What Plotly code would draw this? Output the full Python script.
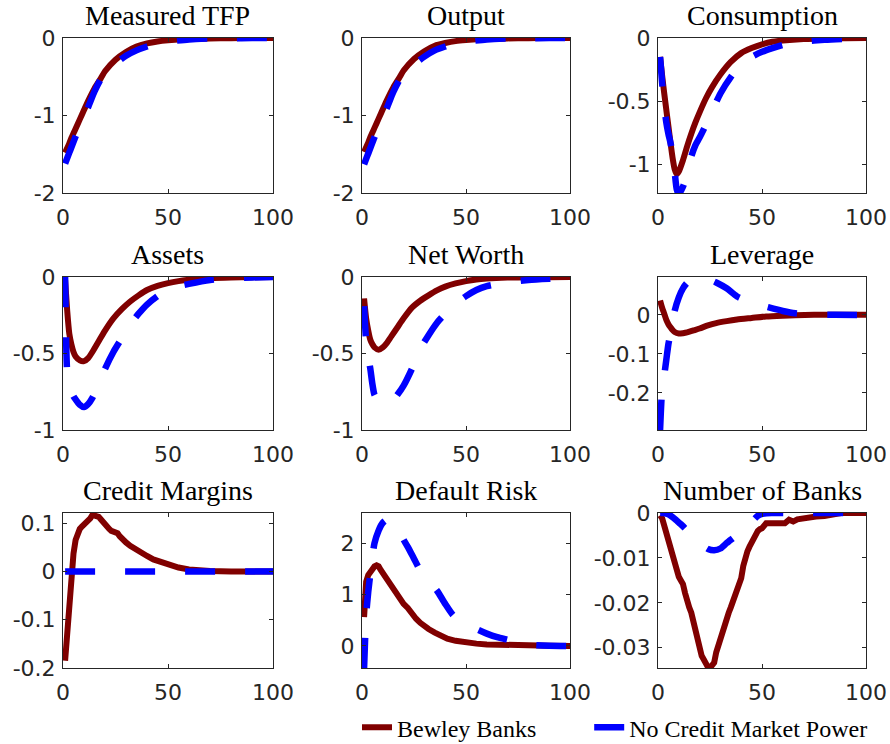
import plotly.graph_objects as go

# ---------------- data ----------------
RED = "#800000"
BLUE = "#0000ff"

tfp_t = [1, 2, 3, 4, 5, 6, 8, 10, 12, 15, 18, 20, 25, 30, 35, 40, 45, 50, 60, 70, 80, 90, 100]
tfp_red = [-1.48, -1.42, -1.36, -1.29, -1.23, -1.17, -1.05, -0.93, -0.81, -0.65, -0.52, -0.43, -0.28,
           -0.18, -0.11, -0.07, -0.045, -0.03, -0.012, -0.005, -0.002, -0.001, 0.0]
tfp_blue = [-1.62, -1.55, -1.48, -1.41, -1.34, -1.27, -1.14, -1.01, -0.89, -0.69, -0.53, -0.46, -0.33,
            -0.23, -0.16, -0.11, -0.07, -0.045, -0.018, -0.007, -0.003, -0.001, 0.0]

out_t = [1, 2, 3, 4, 5, 6, 8, 10, 12, 15, 18, 20, 25, 30, 35, 40, 45, 50, 60, 70, 80, 90, 100]
out_red = [-1.47, -1.41, -1.35, -1.28, -1.22, -1.16, -1.04, -0.92, -0.8, -0.64, -0.51, -0.42, -0.27,
           -0.17, -0.1, -0.065, -0.04, -0.027, -0.011, -0.005, -0.002, -0.001, 0.0]
out_blue = [-1.63, -1.56, -1.49, -1.42, -1.35, -1.28, -1.15, -1.02, -0.9, -0.7, -0.54, -0.47, -0.34,
            -0.24, -0.16, -0.11, -0.07, -0.045, -0.018, -0.007, -0.003, -0.001, 0.0]

cons_t = [1, 2, 3, 4, 5, 6, 7, 8, 9, 10, 12, 14, 16, 18, 20, 23, 26, 30, 35, 40, 45, 50, 55, 60, 70, 80, 90, 100]
cons_red = [-0.15, -0.3, -0.44, -0.57, -0.7, -0.83, -0.95, -1.04, -1.08, -1.06, -0.97, -0.86, -0.76,
            -0.67, -0.59, -0.48, -0.39, -0.29, -0.19, -0.12, -0.08, -0.05, -0.03, -0.02, -0.008,
            -0.003, -0.001, 0.0]
cons_blue = [-0.15, -0.36, -0.54, -0.67, -0.76, -0.83, -0.92, -1.06, -1.2, -1.24, -1.18, -1.08, -0.94,
             -0.85, -0.79, -0.69, -0.58, -0.44, -0.31, -0.21, -0.15, -0.11, -0.08, -0.055, -0.028,
             -0.014, -0.006, -0.002]

assets_t = [1, 2, 3, 4, 5, 6, 8, 10, 12, 14, 17, 20, 24, 28, 32, 36, 40, 45, 50, 55, 60, 70, 80, 90, 100]
assets_red = [-0.02, -0.22, -0.37, -0.44, -0.49, -0.52, -0.545, -0.55, -0.53, -0.49, -0.42, -0.35,
              -0.27, -0.21, -0.16, -0.12, -0.085, -0.058, -0.04, -0.027, -0.018, -0.008, -0.003,
              -0.001, 0.0]
assets_blue = [0.0, -0.62, -0.7, -0.75, -0.78, -0.8, -0.835, -0.85, -0.83, -0.79, -0.7, -0.6, -0.49,
               -0.4, -0.31, -0.24, -0.18, -0.125, -0.085, -0.06, -0.045, -0.02, -0.008, -0.003, 0.0]

nw_t = [1, 2, 3, 4, 5, 6, 8, 10, 12, 14, 17, 20, 24, 28, 32, 36, 40, 45, 50, 55, 60, 70, 80, 90, 100]
nw_red = [-0.14, -0.27, -0.35, -0.41, -0.44, -0.46, -0.475, -0.46, -0.43, -0.39, -0.33, -0.27, -0.2,
          -0.155, -0.12, -0.088, -0.063, -0.042, -0.027, -0.016, -0.01, -0.004, -0.002, -0.001, 0.0]
nw_blue = [-0.19, -0.42, -0.52, -0.6, -0.7, -0.77, -0.81, -0.83, -0.83, -0.82, -0.77, -0.71, -0.6,
           -0.47, -0.38, -0.3, -0.24, -0.175, -0.125, -0.085, -0.06, -0.035, -0.02, -0.012, -0.006]

lev_t = [1, 2, 3, 4, 5, 6, 7, 8, 10, 12, 14, 17, 20, 24, 28, 33, 38, 45, 52, 60, 66, 75, 85, 100]
lev_red = [0.037, 0.018, 0.003, -0.013, -0.024, -0.032, -0.039, -0.044, -0.048, -0.047, -0.045,
           -0.04, -0.035, -0.027, -0.021, -0.016, -0.012, -0.008, -0.004, -0.002, -0.001, 0.0, 0.0, 0.0]
lev_blue = [-0.295, -0.19, -0.155, -0.115, -0.075, -0.048, -0.02, 0.01, 0.045, 0.068, 0.082, 0.09,
            0.094, 0.092, 0.083, 0.068, 0.047, 0.031, 0.021, 0.01, 0.004, 0.001, 0.0, 0.0]

cm_t = [1, 2, 3, 4, 5, 6, 7, 8, 9, 10, 11, 12, 13, 14, 15, 16, 17, 18, 19, 20, 21, 22, 23, 24, 25, 26,
        27, 28, 30, 32, 34, 36, 38, 40, 43, 46, 50, 55, 60, 65, 70, 80, 90, 100]
cm_red = [-0.185, -0.12, -0.05, 0.0, 0.037, 0.065, 0.08, 0.088, 0.093, 0.097, 0.1, 0.104, 0.11, 0.117,
          0.116, 0.112, 0.113, 0.108, 0.102, 0.097, 0.092, 0.088, 0.084, 0.083, 0.08, 0.079, 0.073,
          0.068, 0.06, 0.053, 0.047, 0.042, 0.037, 0.032, 0.025, 0.02, 0.014, 0.008, 0.004, 0.002,
          0.001, 0.0, 0.0, 0.0]
cm_blue_t = [1, 100]
cm_blue = [0.0, 0.0]

dr_t = [1, 2, 3, 4, 5, 6, 7, 8, 9, 10, 11, 12, 13, 14, 15, 16, 17, 18, 19, 20, 22, 24, 26, 28, 30,
        32, 35, 38, 41, 45, 50, 55, 60, 70, 80, 90, 100]
dr_red = [0.56, 1.25, 1.38, 1.45, 1.5, 1.55, 1.57, 1.55, 1.48, 1.42, 1.36, 1.3, 1.24, 1.2, 1.14, 1.06,
          0.98, 0.93, 0.88, 0.82, 0.74, 0.62, 0.53, 0.45, 0.38, 0.33, 0.26, 0.2, 0.14, 0.1, 0.06,
          0.045, 0.03, 0.015, 0.008, 0.004, 0.0]
dr_blue_t = [1, 2, 3, 4, 5, 6, 8, 10, 12, 14, 16, 18, 20, 22, 25, 28, 32, 36, 40, 44, 50, 55, 60, 65,
             70, 75, 82, 90, 100]
dr_blue = [-0.43, 0.6, 1.05, 1.4, 1.75, 2.0, 2.25, 2.4, 2.46, 2.44, 2.35, 2.22, 2.07, 1.93, 1.7, 1.47,
           1.27, 1.08, 0.82, 0.59, 0.44, 0.33, 0.24, 0.17, 0.12, 0.07, 0.02, 0.005, 0.0]

nb_t = list(range(1, 51)) + [52, 55, 58, 61, 63, 65, 67, 70, 73, 76, 80, 85, 88, 100]
nb_red = [-0.0005, -0.0012, -0.0028, -0.0045, -0.006, -0.0075, -0.0095, -0.0115, -0.0132, -0.0142,
          -0.015, -0.0158, -0.0178, -0.0198, -0.021, -0.0222, -0.024, -0.026, -0.028, -0.0305,
          -0.0318, -0.0326, -0.0335, -0.0343, -0.0345, -0.0338, -0.0333, -0.031, -0.0295, -0.0278,
          -0.026, -0.0242, -0.0232, -0.0222, -0.021, -0.0196, -0.0186, -0.0173, -0.016, -0.0145,
          -0.0118, -0.0095, -0.0085, -0.0075, -0.0066, -0.0055, -0.0044, -0.004, -0.0036, -0.0034,
          -0.0023, -0.0024, -0.0022, -0.0023, -0.0015, -0.0019, -0.0014, -0.0011, -0.001, -0.0008,
          -0.0007, -0.0004, 0.0, 0.0]
nb_blue_t = [1, 3, 5, 7, 9, 11, 13, 15, 18, 21, 24, 27, 30, 33, 36, 39, 42, 45, 48, 51, 55, 60, 100]
nb_blue = [0.0, 0.0, -0.0003, -0.0009, -0.0017, -0.0025, -0.0034, -0.0045, -0.0059, -0.0071, -0.008,
           -0.0083, -0.0079, -0.0067, -0.0056, -0.0045, -0.0034, -0.002, -0.0006, -0.0001, 0.0, 0.0, 0.0]

titles = ["Measured TFP", "Output", "Consumption", "Assets", "Net Worth", "Leverage",
          "Credit Margins", "Default Risk", "Number of Banks"]

panels = [
    (tfp_t, tfp_red, tfp_t, tfp_blue, "spline", [-2, 0], [-2, -1, 0], ["-2", "-1", "0"]),
    (out_t, out_red, out_t, out_blue, "spline", [-2, 0], [-2, -1, 0], ["-2", "-1", "0"]),
    (cons_t, cons_red, cons_t, cons_blue, "spline", [-1.23, 0], [-1, -0.5, 0], ["-1", "-0.5", "0"]),
    (assets_t, assets_red, assets_t, assets_blue, "spline", [-1, 0], [-1, -0.5, 0], ["-1", "-0.5", "0"]),
    (nw_t, nw_red, nw_t, nw_blue, "spline", [-1, 0], [-1, -0.5, 0], ["-1", "-0.5", "0"]),
    (lev_t, lev_red, lev_t, lev_blue, "spline", [-0.295, 0.097], [-0.2, -0.1, 0], ["-0.2", "-0.1", "0"]),
    (cm_t, cm_red, cm_blue_t, cm_blue, "linear", [-0.2, 0.121], [-0.2, -0.1, 0, 0.1],
     ["-0.2", "-0.1", "0", "0.1"]),
    (dr_t, dr_red, dr_blue_t, dr_blue, "linear", [-0.43, 2.59], [0, 1, 2], ["0", "1", "2"]),
    (nb_t, nb_red, nb_blue_t, nb_blue, "linear", [-0.0345, 0], [-0.03, -0.02, -0.01, 0],
     ["-0.03", "-0.02", "-0.01", "0"]),
]

# ---------------- layout geometry (pixels) ----------------
W, H = 890, 744
col_px = [(63, 273), (362, 570), (658, 866)]
row_px = [(38, 193), (277, 430), (513, 668)]

AX = "#262626"
TICKFONT = dict(family="DejaVu Sans", size=22, color=AX)
SERIF = "Liberation Serif"

fig = go.Figure()
layout = dict(width=W, height=H, margin=dict(l=0, r=0, t=0, b=0, autoexpand=False),
              paper_bgcolor="white", plot_bgcolor="white", annotations=[])

for i, (rt, rv, bt, bv, shape, yr, yt, ytt) in enumerate(panels):
    r, c = divmod(i, 3)
    n = i + 1
    xs = "x" if n == 1 else f"x{n}"
    ys = "y" if n == 1 else f"y{n}"
    fig.add_trace(go.Scatter(x=rt, y=rv, mode="lines", xaxis=xs, yaxis=ys,
                             line=dict(color=RED, width=6, shape=shape, smoothing=0.6),
                             name="Bewley Banks", legendgroup="red", legend="legend",
                             showlegend=(i == 0)))
    fig.add_trace(go.Scatter(x=bt, y=bv, mode="lines", xaxis=xs, yaxis=ys,
                             line=dict(color=BLUE, width=6.5, dash="30px,30px",
                                       shape="linear" if i == 6 else "spline", smoothing=0.6),
                             name="No Credit Market Power", legendgroup="blue", legend="legend2",
                             showlegend=(i == 0)))
    x0, x1 = col_px[c]
    y0, y1 = row_px[r]
    xdom = [x0 / W, x1 / W]
    ydom = [1 - y1 / H, 1 - y0 / H]
    common = dict(showline=True, mirror="allticks", linecolor=AX, linewidth=1, ticks="inside",
                  ticklen=4, tickcolor=AX, showgrid=False, zeroline=False, tickfont=TICKFONT,
                  automargin=False)
    layout["xaxis" if n == 1 else f"xaxis{n}"] = dict(
        domain=xdom, anchor=ys, range=[0, 100], tickmode="array", tickvals=[0, 50, 100],
        ticktext=["0", "50", "100"], ticklabelstandoff=5, **common)
    layout["yaxis" if n == 1 else f"yaxis{n}"] = dict(
        domain=ydom, anchor=xs, range=yr, tickmode="array", tickvals=yt, ticktext=ytt,
        ticklabelstandoff=2, **common)
    layout["annotations"].append(dict(
        text=titles[i], xref="paper", yref="paper", x=(xdom[0] + xdom[1]) / 2, y=ydom[1],
        xanchor="center", yanchor="bottom", yshift=5, showarrow=False,
        font=dict(family=SERIF, size=28, color="black")))

legend_common = dict(orientation="h", y=0.022, yanchor="middle",
                     font=dict(family=SERIF, size=24, color="black"), bgcolor="rgba(0,0,0,0)")
layout["legend"] = dict(x=357 / W, xanchor="left", **legend_common)
layout["legend2"] = dict(x=0.98, xanchor="right", **legend_common)
layout["showlegend"] = True
fig.update_layout(**layout)
fig.write_html("out.html")
